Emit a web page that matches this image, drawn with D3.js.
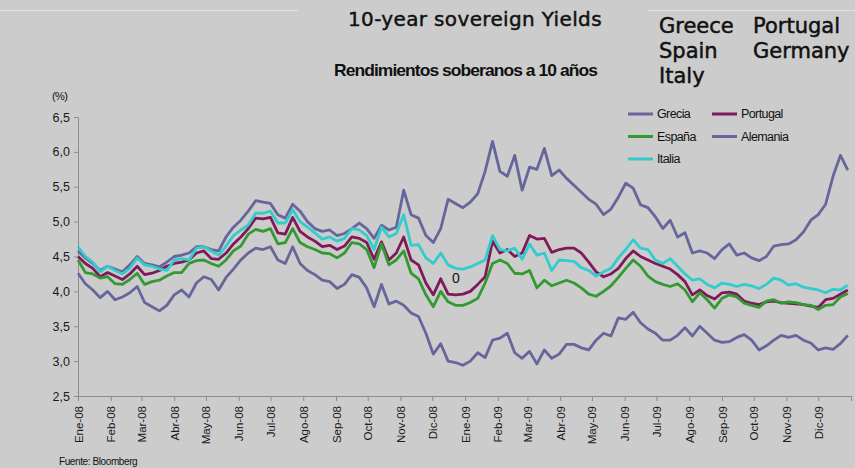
<!DOCTYPE html>
<html>
<head>
<meta charset="utf-8">
<script src="https://cdn.jsdelivr.net/npm/d3@7"></script>
<style>
  body { margin: 0; background: #cccccc; }
  svg { display: block; background: #cccccc; }
  .axis path, .axis line { stroke: #8c8c8c; }
  .axis text { font-family: "Liberation Sans", Arial, sans-serif; fill: #1a1a1a; }
</style>
</head>
<body>
<div class="chart"></div>
<script>
// weekly readings, first week of Jan 2008 to last week of Dec 2009
var startDate = new Date(2008, 0, 1)

var grecia = [4.58,4.48,4.40,4.30,4.36,4.32,4.28,4.38,4.50,4.40,4.38,4.35,4.42,4.50,4.52,4.55,4.64,4.64,4.60,4.58,
  4.78,4.92,5.02,5.15,5.30,5.28,5.26,5.10,5.05,5.25,5.15,5.00,4.90,4.86,4.88,4.80,4.83,4.90,4.98,4.90,
  4.76,4.95,4.88,4.92,5.45,5.10,5.05,4.80,4.70,4.90,5.32,5.26,5.20,5.28,5.40,5.72,6.15,5.72,5.65,5.95,
  5.45,5.78,5.75,6.05,5.66,5.74,5.62,5.52,5.42,5.32,5.25,5.10,5.18,5.35,5.55,5.48,5.24,5.20,5.07,4.90,
  5.02,4.78,4.84,4.55,4.58,4.55,4.47,4.60,4.68,4.52,4.55,4.48,4.44,4.50,4.65,4.67,4.68,4.74,4.85,5.02,
  5.10,5.25,5.65,5.95,5.74]

var portugal = [4.50,4.40,4.33,4.21,4.27,4.22,4.17,4.25,4.36,4.24,4.26,4.30,4.36,4.40,4.42,4.45,4.55,4.58,4.47,4.46,
  4.55,4.68,4.78,4.90,5.05,5.04,5.06,4.84,4.82,5.06,4.86,4.78,4.72,4.64,4.66,4.60,4.65,4.78,4.76,4.70,
  4.46,4.71,4.45,4.55,4.78,4.45,4.38,4.12,3.95,4.18,3.96,3.95,3.96,4.00,4.10,4.21,4.72,4.55,4.60,4.50,
  4.55,4.80,4.75,4.76,4.56,4.60,4.62,4.62,4.55,4.42,4.28,4.21,4.25,4.33,4.47,4.58,4.50,4.45,4.40,4.36,
  4.32,4.24,4.14,3.95,4.02,3.94,3.89,3.98,3.99,3.96,3.86,3.83,3.81,3.85,3.86,3.84,3.83,3.82,3.81,3.79,
  3.77,3.88,3.90,3.96,4.02]

var espana = [4.45,4.27,4.25,4.19,4.21,4.11,4.10,4.17,4.26,4.10,4.14,4.16,4.22,4.27,4.27,4.40,4.44,4.45,4.40,4.36,
  4.45,4.58,4.65,4.82,4.89,4.86,4.90,4.68,4.70,4.90,4.70,4.64,4.60,4.55,4.54,4.48,4.55,4.70,4.68,4.60,
  4.34,4.68,4.38,4.45,4.58,4.26,4.18,3.95,3.78,4.00,3.85,3.80,3.80,3.84,3.90,4.12,4.40,4.45,4.40,4.26,
  4.25,4.30,4.05,4.16,4.08,4.12,4.16,4.12,4.05,3.96,3.93,4.00,4.08,4.20,4.33,4.45,4.36,4.22,4.14,4.10,
  4.07,4.11,4.02,3.85,3.98,3.88,3.76,3.90,3.95,3.92,3.83,3.80,3.77,3.86,3.88,3.83,3.85,3.84,3.81,3.80,
  3.74,3.80,3.81,3.92,3.97]

var alemania = [4.26,4.11,4.02,3.91,4.00,3.88,3.92,3.98,4.07,3.84,3.78,3.72,3.80,3.95,4.02,3.92,4.12,4.21,4.17,4.02,
  4.20,4.32,4.45,4.55,4.62,4.60,4.64,4.45,4.40,4.64,4.40,4.30,4.24,4.16,4.14,4.04,4.10,4.24,4.20,4.05,
  3.78,4.10,3.82,3.86,3.80,3.69,3.64,3.40,3.10,3.25,3.00,2.98,2.94,3.00,3.12,3.05,3.30,3.33,3.40,3.12,
  3.04,3.14,2.96,3.16,3.04,3.10,3.24,3.24,3.19,3.16,3.30,3.40,3.36,3.62,3.60,3.70,3.55,3.46,3.40,3.30,
  3.30,3.37,3.48,3.36,3.50,3.40,3.30,3.27,3.28,3.34,3.38,3.30,3.16,3.22,3.30,3.37,3.34,3.37,3.30,3.26,
  3.16,3.19,3.17,3.25,3.37]

var italia = [4.64,4.50,4.42,4.28,4.36,4.30,4.25,4.33,4.48,4.38,4.36,4.32,4.30,4.45,4.47,4.45,4.62,4.64,4.58,4.52,
  4.65,4.80,4.88,4.95,5.12,5.12,5.15,4.98,4.98,5.17,5.00,4.92,4.84,4.75,4.78,4.72,4.76,4.90,4.88,4.80,
  4.60,4.92,4.78,4.83,5.10,4.66,4.67,4.48,4.40,4.55,4.38,4.33,4.32,4.35,4.40,4.45,4.80,4.60,4.58,4.62,
  4.46,4.68,4.52,4.55,4.30,4.45,4.44,4.43,4.34,4.30,4.22,4.28,4.33,4.48,4.60,4.74,4.62,4.60,4.45,4.40,
  4.47,4.36,4.25,4.16,4.18,4.10,4.05,4.12,4.10,4.07,4.10,4.08,4.04,4.10,4.19,4.16,4.09,4.11,4.06,4.04,
  4.02,3.98,4.03,4.02,4.09]

var yTicks = [2.5, 3.0, 3.5, 4.0, 4.5, 5.0, 5.5, 6.0, 6.5]
var meses = ['Ene', 'Feb', 'Mar', 'Abr', 'May', 'Jun', 'Jul', 'Ago', 'Sep', 'Oct', 'Nov', 'Dic']

var series = [
  { name: 'Grecia', values: grecia, color: '#66669c' },
  { name: 'Portugal', values: portugal, color: '#7f1a5a' },
  { name: 'España', values: espana, color: '#339933' },
  { name: 'Alemania', values: alemania, color: '#66669c' },
  { name: 'Italia', values: italia, color: '#33cccc' }
]

var width = 855, height = 468

var svg = d3.select('.chart')
  .append('svg')
    .attr('width', width)
    .attr('height', height)

// faint rules at the top
svg.append('line').attr('x1', 0).attr('x2', 298).attr('y1', 10.5).attr('y2', 10.5)
  .attr('stroke', '#e2e2e2')
svg.append('line').attr('x1', 648).attr('x2', 855).attr('y1', 10.5).attr('y2', 10.5)
  .attr('stroke', '#e2e2e2')

var x = d3.scaleTime()
  .domain([new Date(2008, 0, 1), new Date(2010, 0, 1)])
  .range([78, 851])

var y = d3.scaleLinear()
  .domain([2.5, 6.5])
  .range([396, 117])

var monthTicks = d3.timeMonth.range(new Date(2008, 0, 1), new Date(2010, 0, 2))

var xAxis = svg.append('g')
  .attr('class', 'axis')
  .attr('transform', 'translate(0,396)')
  .call(d3.axisBottom(x)
    .tickValues(monthTicks)
    .tickSizeOuter(0)
    .tickSize(5)
    .tickFormat(d => d.getFullYear() > 2009 ? '' : meses[d.getMonth()] + '-' + d3.timeFormat('%y')(d)))

xAxis.selectAll('text')
  .attr('font-size', 11.5)
  .attr('transform', 'rotate(-90)')
  .attr('text-anchor', 'end')
  .attr('x', -10)
  .attr('y', 0)
  .attr('dy', '0.35em')

var yAxis = svg.append('g')
  .attr('class', 'axis')
  .attr('transform', 'translate(78,0)')
  .call(d3.axisLeft(y)
    .tickValues(yTicks)
    .tickSize(4)
    .tickSizeOuter(0)
    .tickFormat(d => d3.format('.1f')(d).replace('.', ',')))

yAxis.selectAll('text')
  .attr('font-size', 12.5)
  .attr('x', -8)

var line = d3.line()
  .x((d, i) => x(d3.timeDay.offset(startDate, 7 * i)))
  .y(d => y(d))

svg.selectAll('path.serie')
  .data(series)
  .enter()
    .append('path')
    .attr('class', 'serie')
    .attr('d', d => line(d.values))
    .attr('fill', 'none')
    .attr('stroke', d => d.color)
    .attr('stroke-width', 2.8)
    .attr('stroke-linejoin', 'round')

// titles
svg.append('text')
  .attr('x', 348).attr('y', 26)
  .attr('font-family', '"DejaVu Sans", Verdana, sans-serif')
  .attr('font-size', 20)
  .attr('letter-spacing', 0.35)
  .attr('fill', '#111')
  .attr('stroke', '#111')
  .attr('stroke-width', 0.45)
  .text('10-year sovereign Yields')

svg.append('text')
  .attr('x', 334).attr('y', 76)
  .attr('font-family', '"Liberation Sans", Arial, sans-serif')
  .attr('font-size', 17)
  .attr('font-weight', 'bold')
  .attr('letter-spacing', -0.9)
  .attr('textLength', 263)
  .attr('lengthAdjust', 'spacingAndGlyphs')
  .attr('fill', '#111')
  .text('Rendimientos soberanos a 10 años')

var corner = [['Greece', 'Portugal'], ['Spain', 'Germany'], ['Italy', '']]
corner.forEach(function(row, i) {
  row.forEach(function(t, j) {
    svg.append('text')
      .attr('x', j === 0 ? 659 : 753)
      .attr('y', 33 + i * 25)
      .attr('font-family', '"DejaVu Sans", Verdana, sans-serif')
      .attr('font-size', 21)
      .attr('fill', '#111')
      .attr('stroke', '#111')
      .attr('stroke-width', 0.5)
      .text(t)
  })
})

// legend
var legendPos = [[628, 114], [712, 114], [628, 136.5], [712, 136.5], [628, 159]]
var legend = svg.selectAll('g.legend')
  .data(series)
  .enter()
    .append('g')
    .attr('class', 'legend')
    .attr('transform', (d, i) => 'translate(' + legendPos[i][0] + ',' + legendPos[i][1] + ')')

legend.append('line')
  .attr('x1', 0).attr('x2', 25)
  .attr('stroke', d => d.color)
  .attr('stroke-width', 3)

legend.append('text')
  .attr('x', 29)
  .attr('dy', '0.35em')
  .attr('font-family', '"Liberation Sans", Arial, sans-serif')
  .attr('font-size', 12.5)
  .attr('letter-spacing', -0.6)
  .attr('fill', '#111')
  .text(d => d.name)

svg.append('text')
  .attr('x', 52).attr('y', 100)
  .attr('font-family', '"Liberation Sans", Arial, sans-serif')
  .attr('font-size', 11)
  .attr('letter-spacing', -0.6)
  .attr('fill', '#111')
  .text('(%)')

svg.append('text')
  .attr('x', 452).attr('y', 282.5)
  .attr('font-family', '"Liberation Sans", Arial, sans-serif')
  .attr('font-size', 14)
  .attr('fill', '#111')
  .text('0')

svg.append('text')
  .attr('x', 59).attr('y', 465)
  .attr('font-family', '"Liberation Sans", Arial, sans-serif')
  .attr('font-size', 10)
  .attr('letter-spacing', -0.4)
  .attr('fill', '#111')
  .text('Fuente: Bloomberg')
</script>
</body>
</html>
